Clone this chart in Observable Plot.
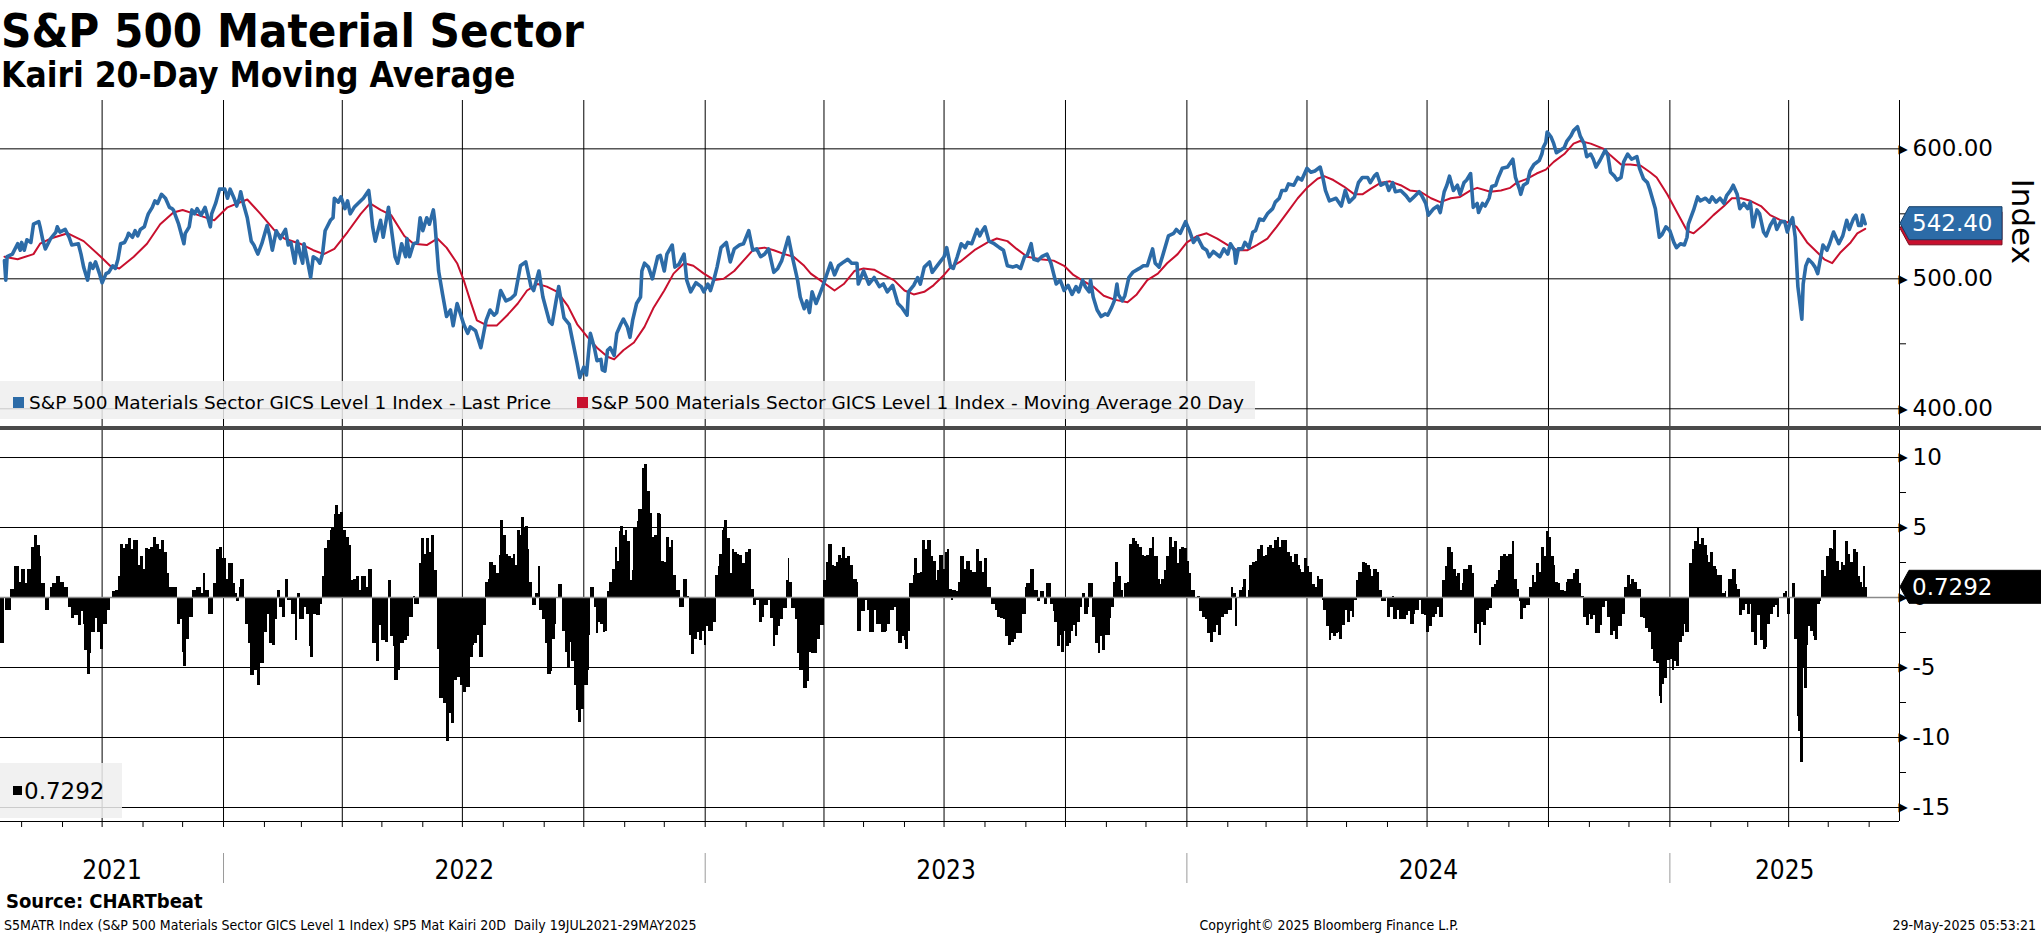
<!DOCTYPE html>
<html><head><meta charset="utf-8">
<script src="https://cdn.jsdelivr.net/npm/d3@7"></script>
<script src="https://cdn.jsdelivr.net/npm/@observablehq/plot@0.6"></script>
<style>
html,body{margin:0;padding:0;background:#fff;}
#root{position:relative;width:2041px;height:936px;overflow:hidden;}
#root > svg, #root > figure{position:absolute;left:0;margin:0;}
</style></head><body><div id="root"></div>
<script>
// x values are days after 2021-07-16
const BASE = Date.UTC(2021, 6, 16);
const toDate = d => new Date(BASE + d * 864e5);

const priceData = [[3,514],[4,499],[5,517],[9,519],[13,527],[15,522],[16,528],[18,522],[20,530],[23,528],[25,542],[29,544],[30,540],[32,530],[34,523],[38,531],[42,536],[43,540],[45,536],[49,538],[52,532],[54,526],[59,527],[61,519],[63,509],[66,499],[68,512],[70,508],[72,513],[75,504],[77,497],[80,504],[82,505],[85,510],[87,508],[89,515],[91,527],[94,528],[96,532],[97,535],[100,532],[102,537],[104,533],[106,538],[109,540],[111,547],[112,550],[115,555],[117,560],[119,558],[122,565],[125,562],[128,555],[130,554],[131,553],[135,542],[139,527],[140,535],[143,540],[145,553],[147,550],[149,554],[152,549],[155,555],[159,540],[160,550],[163,558],[166,569],[170,569],[172,562],[174,569],[177,562],[179,556],[181,562],[182,567],[184,558],[187,547],[190,529],[192,526],[195,519],[198,527],[202,541],[204,533],[206,522],[209,537],[212,531],[216,538],[218,526],[220,528],[223,512],[225,529],[227,519],[229,512],[230,527],[232,517],[235,501],[237,517],[240,515],[242,512],[244,519],[246,537],[250,545],[252,547],[253,562],[256,559],[258,563],[261,554],[263,560],[265,550],[268,555],[273,560],[275,562],[279,568],[280,560],[282,540],[284,529],[288,545],[290,532],[294,555],[299,517],[301,512],[304,527],[307,517],[308,531],[310,517],[313,527],[316,528],[318,547],[320,537],[323,547],[325,542],[328,553],[329,545],[332,506],[335,488],[338,471],[341,476],[343,464],[346,481],[351,465],[354,458],[356,463],
[360,460],[364,447],[368,468],[371,476],[374,472],[376,474],[379,491],[383,483],[387,485],[390,488],[394,510],[398,513],[402,494],[404,491],[408,506],[411,486],[416,467],[418,465],[421,483],[423,494],[427,470],[431,465],[433,455],[437,435],[439,424],[442,432],[444,426],[447,458],[450,447],[452,437],[455,438],[456,430],[458,429],[460,445],[462,447],[465,441],[467,458],[470,465],[472,469],[475,463],[477,455],[479,468],[482,481],[485,486],[486,506],[488,512],[491,509],[494,500],[498,517],[500,518],[503,506],[505,519],[509,526],[511,509],[514,511],[518,519],[520,499],[523,490],[527,497],[531,494],[533,490],[536,496],[538,491],[541,501],[543,509],[546,524],[550,528],[553,513],[556,523],[560,526],[563,527],[567,537],[570,522],[573,523],[576,517],[579,519],[582,523],[586,505],[589,508],[592,514],[597,532],[600,517],[604,499],[606,486],[609,477],[611,483],[613,474],[615,490],[618,481],[620,486],[623,494],[625,500],[629,512],[632,503],[635,510],[639,513],[642,515],[645,512],[649,512],[650,496],[654,506],[658,496],[662,501],[666,494],[669,496],[672,490],[676,495],[680,481],[683,478],[687,472],[688,490],[692,495],[695,501],[697,496],[700,509],[704,513],[706,505],[709,509],[712,513],
[715,517],[717,524],[720,509],[722,508],[725,517],[728,527],[731,524],[733,528],[736,527],[740,538],[742,533],[744,537],[746,540],[749,529],[753,527],[757,524],[760,522],[763,510],[767,509],[770,510],[773,508],[776,517],[778,518],[781,527],[783,515],[786,514],[789,517],[793,519],[796,512],[798,504],[800,496],[803,499],[806,491],[809,495],[812,488],[815,494],[817,490],[820,499],[822,494],[825,490],[826,499],[828,486],[831,476],[834,471],[837,473],[839,472],[842,478],[844,483],[846,496],[847,488],[850,483],[852,487],[855,501],[858,505],[863,508],[866,510],[869,510],[873,523],[875,512],[878,509],[881,519],[885,533],[889,535],[891,538],[894,535],[898,544],[901,537],[904,528],[907,532],[911,524],[914,522],[916,517],[919,521],[924,517],[927,523],[930,519],[932,527],[935,522],[936,512],[938,523],[941,523],[943,528],[946,524],[949,536],[951,537],[954,546],[957,545],[960,550],[964,554],[966,559],[969,562],[971,568],[974,568],[976,573],[980,572],[983,578],[986,576],[990,585],[993,582],[996,583],[1000,586],[1002,578],[1004,568],[1007,560],[1012,562],[1016,556],[1019,568],[1022,559],[1026,563],[1029,574],[1032,578],[1036,578],[1038,574],[1041,579],[1043,581],[1046,572],[1050,574],[1052,568],[1055,574],[1057,567],[1061,568],[1065,564],[1068,560],
[1071,563],[1075,567],[1077,564],[1080,558],[1082,549],[1086,554],[1089,556],[1091,551],[1094,567],[1096,572],[1098,579],[1101,568],[1104,572],[1106,565],[1109,574],[1111,576],[1114,581],[1116,555],[1119,558],[1120,551],[1123,558],[1125,556],[1128,562],[1130,571],[1133,572],[1135,578],[1138,585],[1142,586],[1146,592],[1148,578],[1151,569],[1152,565],[1154,572],[1157,574],[1159,583],[1162,588],[1166,591],[1168,596],[1169,601],[1171,605],[1172,613],[1175,609],[1177,604],[1179,597],[1182,599],[1185,601],[1187,606],[1190,610],[1192,614],[1195,617],[1197,610],[1200,604],[1202,594],[1205,596],[1207,592],[1209,586],[1212,591],[1216,599],[1218,595],[1220,582],[1223,579],[1225,576],[1228,578],[1230,590],[1233,596],[1236,592],[1240,594],[1242,585],[1245,577],[1248,574],[1250,568],[1254,554],[1257,532],[1259,534],[1262,540],[1265,537],[1268,528],[1270,524],[1273,527],[1276,526],[1278,532],[1279,542],[1283,553],[1286,563],[1288,560],[1292,562],[1295,559],[1297,563],[1300,559],[1303,562],[1306,558],[1308,564],[1311,568],[1313,572],[1316,565],[1318,554],[1321,558],[1324,554],[1326,559],[1328,540],[1331,553],[1333,550],[1336,536],[1338,533],[1341,541],[1344,546],[1346,538],[1349,544],[1352,544],[1354,536],[1356,543],[1358,547],[1360,532],[1362,494],[1363,486],[1365,469],[1366,496],[1368,510],[1370,515],[1373,512],[1375,509],[1377,504],[1379,515],[1381,526],[1384,522],[1386,527],[1389,536],[1393,527],[1396,533],[1399,545],[1401,538],[1404,546],[1406,549],[1408,541],[1410,541],[1411,549],[1413,542.4]];

const maData = [[3,517],[13,515],[25,519],[30,527],[38,531],[51,535],[63,529],[76,517],[83,510],[90,508],[101,517],[111,527],[121,542],[131,551],[138,553],[147,550],[162,545],[172,555],[187,561],[197,550],[207,538],[215,531],[227,527],[237,522],[245,519],[253,523],[263,536],[273,550],[280,558],[288,553],[296,549],[306,533],[313,527],[323,526],[331,531],[338,524],[346,512],[351,499],[356,483],
[361,468],[369,464],[376,464],[384,472],[392,481],[399,491],[407,496],[414,494],[422,490],[430,479],[437,465],[445,455],[452,447],[460,440],[465,438],[472,445],[480,451],[488,463],[495,478],[503,491],[510,504],[518,512],[525,510],[533,504],[541,499],[548,500],[556,506],[563,514],[571,523],[579,524],[586,522],[594,519],[601,517],[609,510],[614,504],[621,499],[632,491],[639,496],[647,506],[654,508],[662,507],[669,503],[677,499],[685,491],[692,488],[700,490],[707,495],[715,503],
[720,509],[727,513],[738,522],[748,528],[755,531],[763,529],[770,523],[778,517],[788,515],[798,514],[806,510],[813,503],[821,498],[828,494],[836,487],[844,484],[854,482],[861,488],[869,499],[877,504],[884,512],[892,519],[899,528],[907,533],[914,535],[922,531],[930,526],[937,522],[945,522],[952,526],[960,531],[967,540],[975,551],[983,562],[990,570],[998,577],[1003,579],[1010,576],[1018,571],[1026,565],[1032,565],[1038,569],[1046,574],[1053,575],[1061,572],[1068,568],
[1076,567],[1084,562],[1091,559],[1099,562],[1106,563],[1114,568],[1119,570],[1129,567],[1137,568],[1144,570],[1149,574],[1157,577],[1164,581],[1171,584],[1177,590],[1185,596],[1192,604],[1197,606],[1205,604],[1215,600],[1220,595],[1228,588],[1235,588],[1243,587],[1250,582],[1255,578],[1263,565],[1271,550],[1278,537],[1283,535],[1291,542],[1298,549],[1306,556],[1312,562],[1319,562],[1326,560],[1334,556],[1341,549],[1349,545],[1356,543],[1361,540],[1369,528],[1377,520],[1382,515],[1388,512],[1394,520],[1402,528],[1407,535],[1413,538.47]];

const kairiData = [[0,-3.3],[4,-0.9],[6,-0.9],[8,0.6],[11,2.2],[14,1.1],[16,2.0],[19,1.0],[21,2.0],[24,3.6],[26,4.4],[28,3.7],[30,2.9],[31,1.0],[34,-0.9],[38,0.7],[40,1.0],[42,0.5],[43,1.5],[45,1.1],[48,0.7],[52,-0.7],[54,-1.5],[56,-1.3],[59,-2.0],[61,-1.0],[63,-1.9],[64,-3.8],[66,-5.5],[68,-4.0],[69,-2.5],[72,-1.5],[74,-2.5],[76,-3.7],[78,-1.9],[81,-0.9],[83,-0.1],[85,0.4],[87,0.5],[90,1.5],[91,3.8],[93,3.5],[95,3.8],[97,4.2],[99,3.4],[101,4.1],[104,2.3],[106,2.9],[108,2.0],[110,3.5],[112,3.4],[114,3.6],[116,4.3],[118,3.8],[120,3.4],[122,4.1],[124,3.2],[126,1.7],[128,0.7],[131,0.7],[134,-1.9],[136,-1.6],[138,-3.9],[139,-4.9],[141,-3.0],[143,-1.4],[146,0.5],[149,0.7],[152,0.3],[154,1.7],[155,0.5],[158,-1.2],[162,1.0],[164,3.4],[166,3.6],[168,2.8],[171,1.3],[173,2.4],[176,1.0],[178,0.3],[179,-0.3],[181,0.7],[182,1.3],[186,-1.9],[188,-3.3],[190,-5.6],[192,-5.2],[195,-6.3],[197,-4.7],[200,-2.5],[202,-1.2],[204,-3.3],[206,-3.4],[208,-1.6],[210,0.5],[212,-0.7],[214,-1.4],[216,1.3],[218,-0.2],[221,-1.2],[224,-3.1],[225,0.3],[227,-1.6],[230,-0.7],[232,-1.2],[234,-3.5],[235,-4.3],[237,-1.2],[240,-1.3],[242,-0.5],[244,1.5],[246,3.5],[248,4.1],[250,4.8],[251,5.0],[253,5.9],[254,6.6],[256,5.9],[258,6.1],[260,4.8],[262,4.3],[264,3.7],[266,1.2],[268,1.3],[270,1.5],[272,0.5],[274,1.5],[277,0.7],[279,2.0],[282,-3.3],[285,-4.6],[287,-2.0],[289,-3.1],[292,-3.2],[294,1.2],[296,-2.8],[298,-3.5],[299,-5.9],[301,-5.2],[303,-3.3],[306,-3.1],[308,-2.8],[310,-1.4],[313,0.1],[314,-0.5],[318,2.4],[319,4.2],[321,3.1],[323,4.2],[325,3.2],[327,4.4],[329,1.9],[331,-3.7],[333,-7.2],[336,-7.6],[338,-10.3],[340,-8.3],[342,-9.0],[344,-5.9],[346,-5.7],[349,-6.3],[351,-6.8],[353,-6.4],[356,-4.3],[358,-3.4],
[359,-3.3],[361,-2.7],[363,-4.3],[366,-2.0],[368,1.1],[370,1.3],[371,2.5],[373,1.8],[374,2.3],[376,1.7],[378,3.0],[379,5.5],[381,4.4],[383,3.1],[385,2.9],[387,2.8],[389,3.1],[390,2.3],[392,4.8],[394,4.4],[395,5.7],[397,4.9],[398,5.1],[400,3.4],[401,1.1],[403,-0.6],[406,0.3],[408,2.2],[409,-0.9],[411,-1.6],[413,-3.3],[415,-5.5],[417,-5.3],[418,-3.0],[420,-1.9],[421,-0.1],[423,0.9],[426,-2.4],[428,-3.9],[430,-5.0],[432,-3.2],[433,-4.6],[435,-6.3],[437,-8.1],[438,-8.9],[440,-8.0],[442,-6.2],[443,-6.3],[445,-5.2],[446,-2.7],[447,0.7],[450,-0.7],[452,-2.6],[453,-1.8],[455,-1.9],[457,-2.5],[458,-2.4],[460,0.4],[462,1.1],[464,2.0],[466,3.6],[467,2.6],[469,4.7],[470,5.1],[472,4.4],[474,4.8],[475,4.0],[477,1.2],[479,1.9],[480,4.9],[483,5.4],[484,6.3],[486,4.3],[487,9.2],[488,9.5],[490,7.6],[492,6.0],[494,4.3],[496,4.4],[498,6.0],[500,5.9],[501,2.6],[503,2.5],[505,4.3],[507,3.6],[509,4.1],[510,1.6],[512,0.5],[515,-0.7],[518,1.3],[520,0.1],[522,-2.7],[524,-4.1],[526,-3.0],[528,-2.5],[530,-3.1],[532,-2.4],[534,-3.4],[535,-2.1],[537,-2.4],[540,-1.8],[542,1.6],[544,2.2],[545,3.1],[547,4.8],[548,5.0],[549,5.5],[551,4.2],[553,1.7],[555,3.4],[556,3.2],[558,3.1],[560,3.0],[562,2.4],[564,1.5],[565,3.2],[567,3.4],[569,0.6],[571,-0.6],[573,-0.2],[575,-1.8],[577,-1.4],[579,-0.6],[582,-0.2],[584,-1.5],[586,-3.5],[587,-2.7],[589,-2.1],[591,-1.6],[593,-0.8],[596,1.2],[597,2.8],[598,1.1],[600,-0.8],[603,-1.6],[604,-4.0],[606,-5.2],[608,-3.8],[609,-6.5],[611,-6.0],[613,-3.9],[615,-4.0],[617,-4.0],[619,-3.0],[621,-2.0],[624,1.2],[626,2.5],[628,3.8],[630,2.3],[632,2.2],[634,2.5],[635,3.0],[637,2.8],[638,3.6],[640,2.8],[642,2.9],[644,2.3],[646,1.3],[649,1.1],[650,-2.4],[652,-1.0],[656,-0.2],[657,-0.9],[659,-2.5],[662,-0.9],[664,-1.9],[666,-1.9],[668,-2.5],[671,-2.4],[672,-1.9],[674,-0.9],[677,-0.7],[679,-2.4],[681,-3.3],[683,-2.8],[685,-3.1],[686,-3.7],[688,-2.4],[689,1.0],[692,1.6],[693,2.8],[695,1.7],[697,1.8],[699,4.1],[701,3.4],[703,4.1],[705,2.9],[707,2.6],[709,1.2],[710,1.9],[712,3.0],
[714,2.0],[716,3.2],[718,3.4],[719,0.6],[721,-0.2],[722,0.5],[724,0.4],[726,1.1],[728,2.9],[730,2.0],[732,2.6],[735,1.9],[736,1.8],[738,1.8],[740,3.4],[742,2.6],[744,1.8],[746,2.8],[748,0.7],[751,-0.5],[754,-0.9],[756,-1.4],[758,-1.5],[760,-1.6],[762,-2.8],[764,-3.4],[766,-3.2],[768,-3.0],[770,-2.6],[772,-2.6],[774,-1.2],[777,0.7],[778,1.0],[780,1.0],[781,2.0],[783,0.5],[786,-0.3],[788,0.4],[791,-0.5],[793,1.0],[796,-0.5],[798,-1.0],[799,-1.8],[801,-3.5],[803,-2.7],[804,-3.9],[806,-2.4],[808,-3.5],[810,-3.3],[811,-2.4],[813,-2.0],[815,-2.8],[816,-1.8],[818,-0.7],[820,0.3],[822,-1.2],[824,-0.7],[825,1.0],[828,-1.4],[830,-3.3],[832,-4.0],[833,-2.8],[835,-3.8],[837,-2.7],[839,-2.7],[841,-1.5],[842,-0.7],[844,1.1],[845,2.5],[847,1.5],[849,0.5],[851,-0.1],[852,1.0],[854,1.1],[856,3.8],[858,4.2],[860,4.0],[861,3.8],[863,3.6],[865,3.0],[867,2.9],[869,3.0],[871,3.5],[873,4.3],[874,2.9],[877,1.3],[879,0.9],[880,1.3],[882,1.9],[884,2.9],[886,4.3],[888,3.6],[890,4.0],[892,2.4],[894,3.4],[895,3.6],[897,3.5],[899,2.6],[901,1.7],[902,0.5],[907,0.1],[909,-1.0],[911,-1.4],[913,-1.6],[915,-2.6],[917,-3.2],[919,-2.5],[921,-2.0],[923,-2.7],[925,-1.4],[927,-1.2],[930,0.0],[931,-0.9],[933,0.7],[934,0.3],[936,-2.1],[937,-0.1],[939,0.5],[941,0.7],[942,1.3],[944,0.0],[946,0.5],[947,2.3],[949,2.5],[951,2.6],[953,3.4],[955,3.7],[957,2.9],[959,3.0],[960,3.6],[962,3.7],[964,3.5],[966,4.1],[968,4.3],[969,3.6],[971,4.1],[973,4.1],[975,3.2],[977,2.9],[979,2.5],[981,3.1],[983,2.3],[985,2.0],[986,1.8],[988,2.8],[990,2.2],[992,1.8],[994,0.9],[996,0.7],[998,1.5],[999,1.3],[1002,-0.2],[1003,-0.9],[1005,-2.1],[1007,-3.1],[1008,-2.6],[1010,-2.8],[1012,-2.6],[1014,-2.5],[1015,-3.0],[1017,-2.0],[1019,-0.9],[1021,-1.8],[1023,-1.0],[1025,-1.4],[1026,-0.2],[1028,1.2],[1029,1.8],[1032,2.5],[1034,2.4],[1036,2.3],[1038,2.0],[1039,1.5],[1041,2.0],[1043,1.8],[1045,0.5],[1047,-0.3],[1051,-1.4],[1053,-0.7],[1055,0.1],[1056,-1.6],[1058,-0.9],[1060,-1.6],[1063,-1.6],[1065,-1.3],[1067,-1.0],
[1069,-1.9],[1071,-1.2],[1072,-0.9],[1075,-0.2],[1077,-1.2],[1079,-1.3],[1081,-2.5],[1083,-2.1],[1085,-1.4],[1087,-1.2],[1089,-0.7],[1091,-1.4],[1093,1.2],[1095,2.2],[1097,3.6],[1099,3.2],[1101,2.0],[1103,1.5],[1104,1.7],[1106,0.5],[1108,1.0],[1109,2.0],[1111,2.0],[1113,2.3],[1115,1.7],[1117,-2.6],[1119,-1.9],[1121,-3.4],[1122,-1.8],[1124,-2.0],[1126,-0.9],[1128,-0.8],[1130,0.7],[1132,0.9],[1134,1.2],[1135,1.9],[1137,2.9],[1139,3.1],[1141,2.9],[1143,3.1],[1146,4.0],[1147,1.3],[1149,0.6],[1151,-0.3],[1152,-1.6],[1154,-0.8],[1156,-0.6],[1159,0.7],[1161,1.6],[1162,1.1],[1164,2.4],[1166,1.8],[1168,3.6],[1170,2.9],[1172,4.7],[1173,4.3],[1175,2.9],[1177,2.3],[1178,1.1],[1180,1.0],[1182,0.5],[1185,0.4],[1187,1.1],[1188,1.3],[1190,1.3],[1192,1.7],[1194,2.0],[1196,1.0],[1198,0.1],[1200,-1.4],[1202,-2.0],[1204,-1.2],[1205,-1.6],[1207,-1.3],[1209,-2.6],[1210,-2.6],[1212,-2.0],[1214,-0.7],[1216,-0.3],[1218,-1.4],[1220,-2.7],[1222,-2.4],[1224,-3.0],[1226,-2.1],[1228,-2.1],[1229,-1.2],[1231,0.7],[1233,1.6],[1235,0.9],[1236,1.3],[1238,1.1],[1240,0.6],[1243,-1.4],[1245,-1.5],[1247,-2.2],[1249,-2.5],[1251,-3.7],[1253,-4.6],[1255,-4.7],[1257,-7.1],[1258,-7.6],[1259,-6.2],[1261,-5.8],[1263,-4.5],[1265,-4.4],[1267,-5.2],[1268,-4.6],[1270,-4.9],[1272,-3.2],[1274,-2.8],[1276,-1.9],[1277,-2.5],[1280,2.4],[1282,3.4],[1284,4.0],[1286,4.9],[1287,3.8],[1289,4.2],[1291,3.7],[1293,3.0],[1294,2.5],[1296,3.2],[1298,2.2],[1300,2.0],[1301,1.6],[1303,1.6],[1305,0.3],[1307,0.4],[1308,-0.1],[1310,1.3],[1312,1.0],[1313,2.0],[1315,0.9],[1316,0.6],[1318,-1.3],[1320,-0.9],[1322,-0.5],[1324,-1.2],[1326,-0.5],[1327,-2.5],[1329,-3.4],[1331,-0.9],[1332,-1.3],[1334,-3.1],[1336,-3.7],[1338,-3.6],[1339,-1.9],[1341,-1.2],[1343,-0.7],[1345,-0.6],[1347,-1.4],[1348,-0.1],[1351,0.3],[1353,0.4],[1354,-1.2],[1356,-0.1],[1358,1.0],[1360,-3.0],[1362,-8.5],[1363,-9.6],[1364,-11.8],[1366,-5.0],[1367,-6.5],[1369,-3.4],[1370,-2.1],[1372,-2.4],[1374,-2.8],[1375,-3.1],[1377,-0.5],[1379,-0.3],[1380,1.9],[1382,1.5],[1384,2.9],[1386,3.5],[1388,3.4],[1389,4.8],[1391,2.6],[1393,1.9],[1395,2.5],[1396,2.3],[1398,4.0],[1400,3.1],[1402,2.5],[1404,3.4],[1406,3.2],[1408,1.5],[1409,1.1],[1411,0.7],[1412,2.2],[1413,0.7292]];

const lastPrice = 542.40;
const lastMA = 538.47;
const lastKairi = 0.7292;
const priceTicks = [400, 500, 600];
const priceMinorTicks = [450, 550];
const kairiTicks = [-15, -10, -5, 0, 5, 10];
const kairiMinorTicks = [-12.5, -7.5, -2.5, 2.5, 7.5];
const yearLabels = ["2021", "2022", "2023", "2024", "2025"];
const xDomain = [new Date("2021-07-16"), new Date("2025-06-24")];

const BLUE = "#2c6ba7", RED = "#c8102e";
const W = 2041, MR = 142;
const FONT = "DejaVu Sans";

const price = priceData.map(([d, v]) => ({date: toDate(d), v}));
const ma = maData.map(([d, v]) => ({date: toDate(d), v}));
const kairi = kairiData.map(([d, v], i, a) => {
  const next = i < a.length - 1 ? a[i + 1][0] : d + 1.4;
  return {x1: toDate(d), x2: toDate(Math.min(next, d + 3)), v};
});
const quarterLines = d3.utcMonth.every(3).range(xDomain[0], xDomain[1]);
const monthTicks = d3.utcMonth.range(xDomain[0], xDomain[1]);
const yearStarts = yearLabels.map(y => new Date(`${y}-01-01`));
const yearRows = yearLabels.map((label, i) => {
  const from = i === 0 ? xDomain[0] : yearStarts[i];
  const to = i < yearLabels.length - 1 ? yearStarts[i + 1] : xDomain[1];
  return {label, mid: new Date((+from + +to) / 2)};
});

function valueTag(value, fill, stroke, label, boxW) {
  return (index, scales, values, dims) => {
    const y = scales.y(value);
    const x0 = dims.width - dims.marginRight;
    const g = d3.create("svg:g");
    g.append("path")
      .attr("d", `M${x0 + 1},${y}L${x0 + 10},${y - 16.5}H${x0 + boxW}V${y + 16.5}H${x0 + 10}Z`)
      .attr("fill", fill).attr("stroke", stroke).attr("stroke-width", 1);
    if (label) g.append("text").attr("x", x0 + 13).attr("y", y).attr("dy", "0.36em")
      .attr("text-anchor", "start")
      .attr("fill", "white").attr("font-size", 23).attr("font-family", FONT).text(label);
    return g.node();
  };
}

const baseStyle = {background: "white", fontFamily: FONT, fontSize: "23px", color: "black", overflow: "visible"};

const upper = Plot.plot({
  width: W, height: 327, marginLeft: 0, marginRight: MR, marginTop: 0, marginBottom: 0,
  x: {type: "utc", domain: xDomain, axis: null},
  y: {domain: [385.6, 637.2], axis: null},
  style: baseStyle,
  marks: [
    Plot.ruleY(priceTicks, {stroke: "black", strokeWidth: 1}),
    Plot.ruleX(quarterLines, {stroke: "black", strokeWidth: 1}),
    Plot.ruleX([xDomain[1]], {stroke: "black", strokeWidth: 1}),
    Plot.line(ma, {x: "date", y: "v", stroke: RED, strokeWidth: 2}),
    Plot.line(price, {x: "date", y: "v", stroke: BLUE, strokeWidth: 3.6, strokeLinejoin: "round"}),
    Plot.axisY({anchor: "right", ticks: priceMinorTicks, tickSize: 6, tickFormat: () => "", label: null}),
    Plot.text(priceTicks, {y: d => d, text: () => "\u25B6", frameAnchor: "right", textAnchor: "start", fontSize: 12, dx: -1}),
    Plot.axisY({anchor: "right", ticks: priceTicks, tickSize: 0, tickPadding: 13, tickFormat: d => d.toFixed(2), fontSize: 23, label: null}),
    Plot.text(["Index"], {text: d => d, frameAnchor: "right", dx: 122, rotate: 90, fontSize: 31}),
    valueTag(lastMA, RED, "#7a0a1c", null, 103),
    valueTag(lastPrice, BLUE, "#163e66", lastPrice.toFixed(2), 103)
  ]
});

const lower = Plot.plot({
  width: W, height: 397, marginLeft: 0, marginRight: MR, marginTop: 0, marginBottom: 6,
  x: {type: "utc", domain: xDomain, axis: null},
  y: {domain: [-16, 11.93], axis: null},
  style: baseStyle,
  marks: [
    Plot.ruleY(kairiTicks.filter(t => t !== 0), {stroke: "black", strokeWidth: 1}),
    Plot.ruleX(quarterLines, {stroke: "black", strokeWidth: 1}),
    Plot.rect(kairi, {x1: "x1", x2: "x2", y1: 0, y2: "v", fill: "black",
      insetLeft: -0.3, insetRight: -0.3, insetTop: 0, insetBottom: 0, shapeRendering: "crispEdges"}),
    Plot.ruleY([0], {stroke: "#8a8a8a", strokeWidth: 1.5}),
    Plot.ruleX([xDomain[1]], {stroke: "black", strokeWidth: 1}),
    Plot.ruleY([-16], {stroke: "black", strokeWidth: 1}),
    Plot.axisX({anchor: "bottom", ticks: monthTicks, tickSize: 6, tickFormat: () => "", label: null}),
    Plot.axisY({anchor: "right", ticks: kairiMinorTicks, tickSize: 6, tickFormat: () => "", label: null}),
    Plot.text(kairiTicks, {y: d => d, text: () => "\u25B6", frameAnchor: "right", textAnchor: "start", fontSize: 12, dx: -1}),
    Plot.axisY({anchor: "right", ticks: kairiTicks, tickSize: 0, tickPadding: 13, tickFormat: d => String(d), fontSize: 23, label: null}),
    valueTag(lastKairi, "black", "black", lastKairi.toFixed(4), 150)
  ]
});

const years = Plot.plot({
  width: W, height: 70, marginLeft: 0, marginRight: MR, marginTop: 0, marginBottom: 0,
  x: {type: "utc", domain: xDomain, axis: null},
  style: baseStyle,
  marks: [
    Plot.ruleX(yearStarts.slice(1), {stroke: "#9a9a9a", strokeWidth: 1, insetTop: 26, insetBottom: 14}),
    Plot.text(yearRows, {x: "mid", text: "label", frameAnchor: "top", lineAnchor: "top", dy: 33,
      fontSize: 26, fontFamily: "DejaVu Sans Condensed"})
  ]
});

const root = document.getElementById("root");
upper.style.top = "100px";
lower.style.top = "430px";
years.style.top = "827px";
root.append(upper, lower, years);

const ov = d3.select(root).append("svg").attr("width", W).attr("height", 936)
  .style("position", "absolute").style("left", 0).style("top", 0).style("pointer-events", "none");

ov.append("rect").attr("x", 0).attr("y", 426).attr("width", W).attr("height", 4).attr("fill", "#4a4a4a");

function txt(x, y, s, size, opts = {}) {
  return ov.append("text").attr("x", x).attr("y", y).attr("font-size", size)
    .attr("font-family", opts.family || FONT).attr("font-weight", opts.weight || "normal")
    .attr("text-anchor", opts.anchor || "start").attr("fill", "black").text(s);
}
txt(1, 47, "S&P 500 Material Sector", 47, {family: "DejaVu Sans Condensed", weight: "bold"});
txt(1, 87, "Kairi 20-Day Moving Average", 35, {family: "DejaVu Sans Condensed", weight: "bold"});

// legend (upper panel)
ov.append("rect").attr("x", 0).attr("y", 381).attr("width", 1255).attr("height", 38).attr("fill", "#eeeeee").attr("fill-opacity", 0.85);
ov.append("rect").attr("x", 13).attr("y", 397).attr("width", 11).attr("height", 11).attr("fill", BLUE);
txt(29, 409, "S&P 500 Materials Sector GICS Level 1 Index - Last Price", 18.5);
ov.append("rect").attr("x", 577).attr("y", 397).attr("width", 11).attr("height", 11).attr("fill", RED);
txt(591, 409, "S&P 500 Materials Sector GICS Level 1 Index - Moving Average 20 Day", 18.5);

// legend (lower panel)
ov.append("rect").attr("x", 0).attr("y", 763).attr("width", 122).attr("height", 55).attr("fill", "#eeeeee").attr("fill-opacity", 0.85);
ov.append("rect").attr("x", 13).attr("y", 786).attr("width", 9).attr("height", 9).attr("fill", "black");
txt(24, 799, lastKairi.toFixed(4), 23);

txt(6, 908, "Source: CHARTbeat", 20, {family: "DejaVu Sans Condensed", weight: "bold"});
txt(4, 930, "S5MATR Index (S&P 500 Materials Sector GICS Level 1 Index) SP5 Mat Kairi 20D  Daily 19JUL2021-29MAY2025", 14, {family: "DejaVu Sans Condensed"}).style("white-space", "pre");
txt(1329, 930, "Copyright\u00A9 2025 Bloomberg Finance L.P.", 14, {family: "DejaVu Sans Condensed", anchor: "middle"});
txt(2036, 930, "29-May-2025 05:53:21", 14, {family: "DejaVu Sans Condensed", anchor: "end"});
</script></body></html>
